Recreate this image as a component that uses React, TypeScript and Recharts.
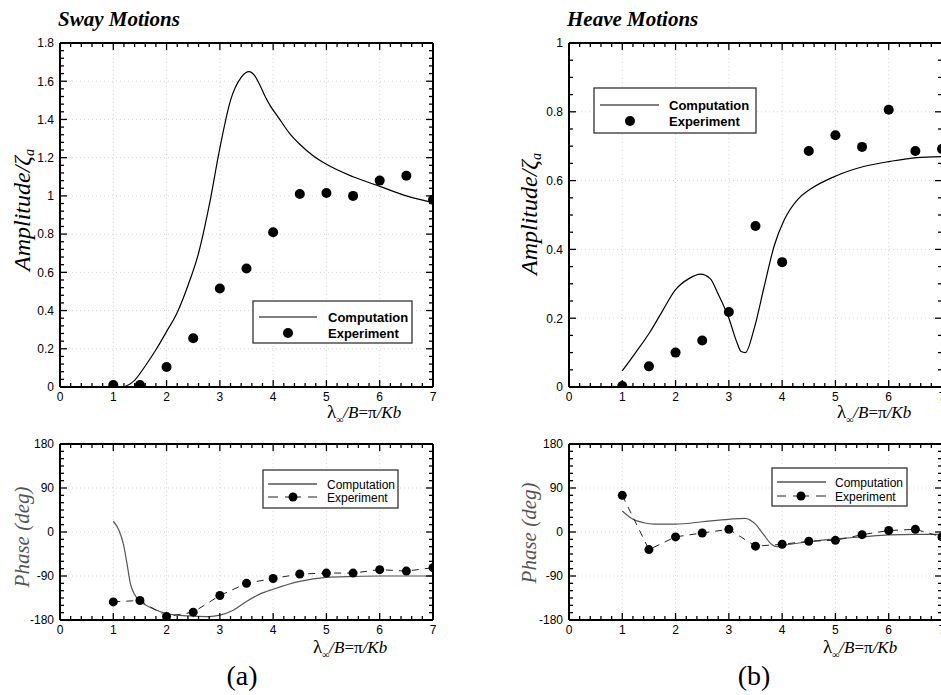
import React from "react";
import { ComposedChart, Line, XAxis, YAxis, ReferenceLine } from "recharts";

// λ∞/B values where the experiments were sampled
const lambdaExp = [1, 1.5, 2, 2.5, 3, 3.5, 4, 4.5, 5, 5.5, 6, 6.5, 7];

const swayAmpExp = [0.01, 0.01, 0.105, 0.255, 0.515, 0.62, 0.81, 1.01, 1.015, 1.0, 1.08, 1.105, 0.98];
const swayPhaseExp = [-143, -140, -173, -164, -130, -105, -95, -86, -84, -84, -77, -80, -73];
const heaveAmpExp = [0.003, 0.06, 0.1, 0.135, 0.218, 0.468, 0.363, 0.686, 0.732, 0.698, 0.806, 0.686, 0.692];
const heavePhaseExp = [75, -36, -10, -2, 5.5, -29, -25, -19, -17, -5.5, 3, 5.5, -10];

// computation curves
const swayAmpCompX = [1.2, 1.4, 1.5, 1.6, 1.8, 2.0, 2.2, 2.4, 2.6, 2.8, 3.0, 3.2, 3.4, 3.55, 3.65, 3.75, 3.85, 3.95, 4.1, 4.3, 4.5, 4.75, 5.0, 5.5, 6.0, 6.5, 7.0];
const swayAmpCompY = [0, 0.035, 0.07, 0.11, 0.195, 0.29, 0.39, 0.53, 0.7, 0.95, 1.25, 1.5, 1.62, 1.65, 1.63, 1.58, 1.52, 1.47, 1.41, 1.33, 1.27, 1.21, 1.165, 1.1, 1.05, 1.0, 0.965];

const heaveAmpCompX = [1.0, 1.25, 1.52, 1.75, 2.0, 2.25, 2.47, 2.65, 2.8, 3.0, 3.15, 3.23, 3.31, 3.47, 3.66, 3.85, 4.04, 4.29, 4.52, 5.03, 5.53, 6.03, 6.53, 7.0];
const heaveAmpCompY = [0.047, 0.1, 0.16, 0.22, 0.283, 0.315, 0.328, 0.315, 0.27, 0.2, 0.13, 0.103, 0.1, 0.167, 0.29, 0.41, 0.486, 0.545, 0.574, 0.615, 0.641, 0.656, 0.667, 0.67];

const swayPhaseCompX = [1.0, 1.1, 1.19, 1.25, 1.32, 1.4, 1.5, 1.75, 2.0, 2.2, 2.5, 2.8, 3.0, 3.25, 3.5, 3.75, 4.0, 4.5, 5.0, 5.5, 6.0, 7.0];
const swayPhaseCompY = [22, 5, -25, -60, -105, -128, -141, -157, -167, -170, -172, -173, -170, -160, -142, -127, -117, -101, -93, -91, -90, -90];

const heavePhaseCompX = [1.0, 1.2, 1.4, 1.6, 2.0, 2.5, 3.0, 3.3, 3.5, 3.65, 3.8, 3.9, 4.0, 4.5, 5.0, 5.5, 6.0, 6.5, 7.0];
const heavePhaseCompY = [43, 26, 19, 16, 16, 21, 26, 28, 16, -5, -25, -30, -28, -20, -14, -10, -6, -5, -5];

// axis labels
const xMajors = [0, 1, 2, 3, 4, 5, 6, 7];
const swayAmpMajors = [0, 0.2, 0.4, 0.6, 0.8, 1, 1.2, 1.4, 1.6, 1.8];
const heaveAmpMajors = [0, 0.2, 0.4, 0.6, 0.8, 1];
const phaseMajors = [-180, -90, 0, 90, 180];

const SANS = "'Liberation Sans', Arial, sans-serif";
const SERIF = "'Liberation Serif', 'Times New Roman', serif";

type Pt = { x: number; y: number };
const zip = (xs: number[], ys: number[]): Pt[] => xs.map((x, i) => ({ x, y: ys[i] }));

function tickRange(min: number, max: number, step: number): number[] {
  const n = Math.round((max - min) / step);
  return Array.from({ length: n + 1 }, (_, i) => +(min + i * step).toFixed(6));
}

type Side = "bottom" | "top" | "left" | "right";

// inward Tecplot-style ticks, long on majors, with labels on bottom/left only
function makeTick(side: Side, majors: number[], fontSize: number, width: number) {
  return (props: any) => {
    const { x, y, payload } = props;
    const v = payload.value as number;
    const major = majors.some((m) => Math.abs(m - v) < 1e-6);
    const len = major ? 7 : 4;
    const label = String(+v.toFixed(3));
    const line = { stroke: "#000", strokeWidth: width };
    if (side === "bottom") {
      return (
        <g>
          <line x1={x} x2={x} y1={y} y2={y - len} {...line} />
          {major && (
            <text x={x} y={y + 14} textAnchor="middle" fontSize={fontSize} fontFamily={SANS} fill="#000">
              {label}
            </text>
          )}
        </g>
      );
    }
    if (side === "top") return <line x1={x} x2={x} y1={y} y2={y + len} {...line} />;
    if (side === "right") return <line x1={x} x2={x - len} y1={y} y2={y} {...line} />;
    return (
      <g>
        <line x1={x} x2={x + len} y1={y} y2={y} {...line} />
        {major && (
          <text x={x - 6} y={y} dy="0.36em" textAnchor="end" fontSize={fontSize} fontFamily={SANS} fill="#000">
            {label}
          </text>
        )}
      </g>
    );
  };
}

interface PanelProps {
  left: number;
  top: number;
  width: number;
  height: number;
  plotL: number;
  plotT: number;
  plotR: number;
  plotB: number;
  yDomain: [number, number];
  yStep: number;
  yMajors: number[];
  comp: Pt[];
  exp: Pt[];
  dashed: boolean;
  compColor: string;
  dotR: number;
}

function Panel(p: PanelProps) {
  const xTicks = tickRange(0, 7, 0.2);
  const yTicks = tickRange(p.yDomain[0], p.yDomain[1], p.yStep);
  const axisLine = { stroke: "#000", strokeWidth: 2 };
  const gridY = p.yMajors.filter((v) => v > p.yDomain[0] && v < p.yDomain[1]);
  return (
    <div style={{ position: "absolute", left: p.left, top: p.top }}>
      <ComposedChart width={p.width} height={p.height} margin={{ top: 0, right: 0, bottom: 0, left: 0 }}>
        <XAxis
          xAxisId="b"
          type="number"
          dataKey="x"
          domain={[0, 7]}
          ticks={xTicks}
          interval={0}
          allowDataOverflow
          height={p.height - p.plotB}
          tickSize={0}
          tickMargin={0}
          tickLine={false}
          axisLine={axisLine}
          tick={makeTick("bottom", xMajors, 12, 1.3)}
        />
        <XAxis
          xAxisId="t"
          orientation="top"
          type="number"
          dataKey="x"
          domain={[0, 7]}
          ticks={xTicks}
          interval={0}
          allowDataOverflow
          height={p.plotT}
          tickSize={0}
          tickMargin={0}
          tickLine={false}
          axisLine={axisLine}
          tick={makeTick("top", xMajors, 12, 1.3)}
        />
        <YAxis
          yAxisId="l"
          type="number"
          domain={p.yDomain}
          ticks={yTicks}
          interval={0}
          allowDataOverflow
          width={p.plotL}
          tickSize={0}
          tickMargin={0}
          tickLine={false}
          axisLine={axisLine}
          tick={makeTick("left", p.yMajors, 12, 1.3)}
        />
        <YAxis
          yAxisId="r"
          orientation="right"
          type="number"
          domain={p.yDomain}
          ticks={yTicks}
          interval={0}
          allowDataOverflow
          width={p.width - p.plotR}
          tickSize={0}
          tickMargin={0}
          tickLine={false}
          axisLine={axisLine}
          tick={makeTick("right", p.yMajors, 12, 1.3)}
        />

        {/* faint dotted grid on major ticks */}
        {xMajors.slice(1, -1).map((v) => (
          <ReferenceLine key={"gx" + v} xAxisId="b" yAxisId="l" x={v} stroke="#d6d6d6" strokeDasharray="1 3" />
        ))}
        {gridY.map((v) => (
          <ReferenceLine key={"gy" + v} xAxisId="b" yAxisId="l" y={v} stroke="#d6d6d6" strokeDasharray="1 3" />
        ))}

        <Line
          xAxisId="t"
          yAxisId="r"
          data={p.comp}
          dataKey="y"
          stroke="none"
          dot={false}
          isAnimationActive={false}
        />
        <Line
          xAxisId="b"
          yAxisId="l"
          data={p.comp}
          dataKey="y"
          type="monotone"
          stroke={p.compColor}
          strokeWidth={1.2}
          dot={false}
          isAnimationActive={false}
        />
        <Line
          xAxisId="b"
          yAxisId="l"
          data={p.exp}
          dataKey="y"
          type="linear"
          stroke={p.dashed ? "#222" : "none"}
          strokeWidth={1}
          strokeDasharray={p.dashed ? "7 6" : undefined}
          dot={{ r: p.dotR, fill: "#000", stroke: "#000", strokeWidth: 0 }}
          isAnimationActive={false}
        />
      </ComposedChart>
    </div>
  );
}

interface LegendProps {
  x: number;
  y: number;
  w: number;
  h: number;
  lineX0: number;
  lineX1: number;
  compY: number;
  expY: number;
  dotX: number;
  textX: number;
  fontSize: number;
  bold: boolean;
  dashed: boolean;
  r: number;
}

function LegendBox(l: LegendProps) {
  return (
    <g>
      <rect x={l.x} y={l.y} width={l.w} height={l.h} fill="#fff" stroke="#333" strokeWidth={1.3} />
      <line x1={l.lineX0} x2={l.lineX1} y1={l.compY} y2={l.compY} stroke="#000" strokeWidth={1} />
      {l.dashed && (
        <>
          <line x1={l.lineX0} x2={l.dotX - 15} y1={l.expY} y2={l.expY} stroke="#222" strokeWidth={1} />
          <line x1={l.dotX - 8} x2={l.dotX + 8} y1={l.expY} y2={l.expY} stroke="#222" strokeWidth={1} />
          <line x1={l.dotX + 15} x2={l.lineX1} y1={l.expY} y2={l.expY} stroke="#222" strokeWidth={1} />
        </>
      )}
      <circle cx={l.dotX} cy={l.expY} r={l.r} fill="#000" />
      <text x={l.textX} y={l.compY + 4.5} fontSize={l.fontSize} fontWeight={l.bold ? "bold" : "normal"} fontFamily={SANS}>
        Computation
      </text>
      <text x={l.textX} y={l.expY + 4.5} fontSize={l.fontSize} fontWeight={l.bold ? "bold" : "normal"} fontFamily={SANS}>
        Experiment
      </text>
    </g>
  );
}

function XTitle({ x, y }: { x: number; y: number }) {
  return (
    <text x={x} y={y} fontSize={17} fontFamily={SERIF} fontStyle="italic" fill="#000">
      <tspan fontStyle="normal" fontSize={19}>λ</tspan>
      <tspan dy={5} fontSize={10}>∞</tspan>
      <tspan dy={-5}>/B</tspan>
      <tspan fontStyle="normal">=π</tspan>
      <tspan>/Kb</tspan>
    </text>
  );
}

function AmpTitle({ x, y }: { x: number; y: number }) {
  return (
    <text transform={`translate(${x},${y}) rotate(-90)`} textAnchor="middle" fontSize={24} fontFamily={SERIF} fontStyle="italic">
      Amplitude/ζ<tspan dy={4} fontSize={14}>a</tspan>
    </text>
  );
}

function PhaseTitle({ x, y }: { x: number; y: number }) {
  return (
    <text transform={`translate(${x},${y}) rotate(-90)`} textAnchor="middle" fontSize={21} fontFamily={SERIF} fontStyle="italic" fill="#555">
      Phase (deg)
    </text>
  );
}

export default function App() {
  const swayAmpComp = zip(swayAmpCompX, swayAmpCompY);
  const heaveAmpComp = zip(heaveAmpCompX, heaveAmpCompY);
  const swayPhaseComp = zip(swayPhaseCompX, swayPhaseCompY);
  const heavePhaseComp = zip(heavePhaseCompX, heavePhaseCompY);

  return (
    <div style={{ position: "absolute", left: 0, top: 0, width: 941, height: 695, overflow: "hidden", background: "#fff" }}>
      <Panel
        left={0} top={0} width={470} height={430}
        plotL={60} plotT={43} plotR={433} plotB={387}
        yDomain={[0, 1.8]} yStep={0.04} yMajors={swayAmpMajors}
        comp={swayAmpComp} exp={zip(lambdaExp, swayAmpExp)}
        dashed={false} compColor="#000" dotR={5}
      />
      <Panel
        left={470} top={0} width={480} height={430}
        plotL={99} plotT={43} plotR={472} plotB={387}
        yDomain={[0, 1]} yStep={0.05} yMajors={heaveAmpMajors}
        comp={heaveAmpComp} exp={zip(lambdaExp, heaveAmpExp)}
        dashed={false} compColor="#000" dotR={5}
      />
      <Panel
        left={0} top={430} width={470} height={265}
        plotL={60} plotT={14} plotR={433} plotB={190}
        yDomain={[-180, 180]} yStep={15} yMajors={phaseMajors}
        comp={swayPhaseComp} exp={zip(lambdaExp, swayPhaseExp)}
        dashed={true} compColor="#555" dotR={4.5}
      />
      <Panel
        left={470} top={430} width={480} height={265}
        plotL={99} plotT={14} plotR={472} plotB={190}
        yDomain={[-180, 180]} yStep={15} yMajors={phaseMajors}
        comp={heavePhaseComp} exp={zip(lambdaExp, heavePhaseExp)}
        dashed={true} compColor="#555" dotR={4.5}
      />

      <svg width={941} height={695} style={{ position: "absolute", left: 0, top: 0, pointerEvents: "none" }}>
        <text x={58} y={26} fontSize={21} fontFamily={SERIF} fontWeight="bold" fontStyle="italic">Sway Motions</text>
        <text x={567} y={26} fontSize={21} fontFamily={SERIF} fontWeight="bold" fontStyle="italic">Heave Motions</text>

        <AmpTitle x={30} y={210} />
        <AmpTitle x={537} y={214} />
        <PhaseTitle x={29} y={537} />
        <PhaseTitle x={536} y={533} />

        <XTitle x={327} y={418} />
        <XTitle x={837} y={418} />
        <XTitle x={313} y={653} />
        <XTitle x={823} y={653} />

        <LegendBox x={253} y={301} w={159} h={42} lineX0={259} lineX1={317} compY={317} expY={333} dotX={288} textX={328} fontSize={13} bold={true} dashed={false} r={5} />
        <LegendBox x={594} y={88} w={162} h={45} lineX0={600} lineX1={659} compY={105} expY={121} dotX={630} textX={669} fontSize={13} bold={true} dashed={false} r={5} />
        <LegendBox x={263} y={470} w={135} h={38} lineX0={268} lineX1={317} compY={484} expY={497} dotX={293} textX={327} fontSize={12} bold={false} dashed={true} r={4.5} />
        <LegendBox x={772} y={468} w={135} h={38} lineX0={777} lineX1={826} compY={482} expY={496} dotX={801} textX={835} fontSize={12} bold={false} dashed={true} r={4.5} />

        <text x={242} y={685} textAnchor="middle" fontSize={28} fontFamily={SERIF}>(a)</text>
        <text x={754} y={685} textAnchor="middle" fontSize={28} fontFamily={SERIF}>(b)</text>
      </svg>
    </div>
  );
}
